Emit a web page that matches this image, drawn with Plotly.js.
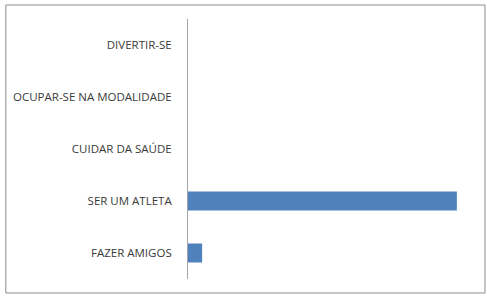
<!DOCTYPE html>
<html>
<head>
<meta charset="utf-8">
<script src="https://cdn.plot.ly/plotly-3.0.1.min.js"></script>
<style>html,body{margin:0;padding:0;background:#fff;}#chart{width:487px;height:296px;}</style>
</head>
<body>
<div id="chart"></div>
<script>
// Categories, bottom to top as Plotly draws them
const categories = ['FAZER AMIGOS', 'SER UM ATLETA', 'CUIDAR DA SAÚDE', 'OCUPAR-SE NA MODALIDADE', 'DIVERTIR-SE'];
const values = [1, 19, 0, 0, 0];
const xMax = 20;

const trace = {
  type: 'bar',
  orientation: 'h',
  y: categories,
  x: values,
  marker: {color: '#4f81bd', line: {width: 0}},
  hoverinfo: 'none'
};

const layout = {
  width: 487, height: 296,
  margin: {l: 187.5, r: 16, t: 19, b: 17, pad: 0},
  paper_bgcolor: '#ffffff', plot_bgcolor: '#ffffff',
  showlegend: false,
  bargap: 0.635,
  font: {family: 'Open Sans, sans-serif', size: 11.5, color: '#3a3a3a'},
  xaxis: {range: [0, xMax], visible: false, showgrid: false, zeroline: false, fixedrange: true},
  yaxis: {
    type: 'category', categoryorder: 'array', categoryarray: categories,
    showline: true, linecolor: '#a6a6a6', linewidth: 1,
    ticks: '', ticklabelstandoff: 13, showgrid: false, zeroline: false,
    tickfont: {family: 'Open Sans, sans-serif', size: 11.5, color: '#3a3a3a'}
  },
  shapes: [{
    type: 'rect', xref: 'paper', yref: 'paper',
    x0: (5 - 187.5) / 283.5, x1: (485 - 187.5) / 283.5,
    y0: (279 - 293) / 260, y1: (279 - 5) / 260,
    line: {color: '#8c8c8c', width: 1}, fillcolor: 'rgba(0,0,0,0)', layer: 'below'
  }]
};

Plotly.newPlot('chart', [trace], layout, {staticPlot: true, displayModeBar: false});
</script>
</body>
</html>
